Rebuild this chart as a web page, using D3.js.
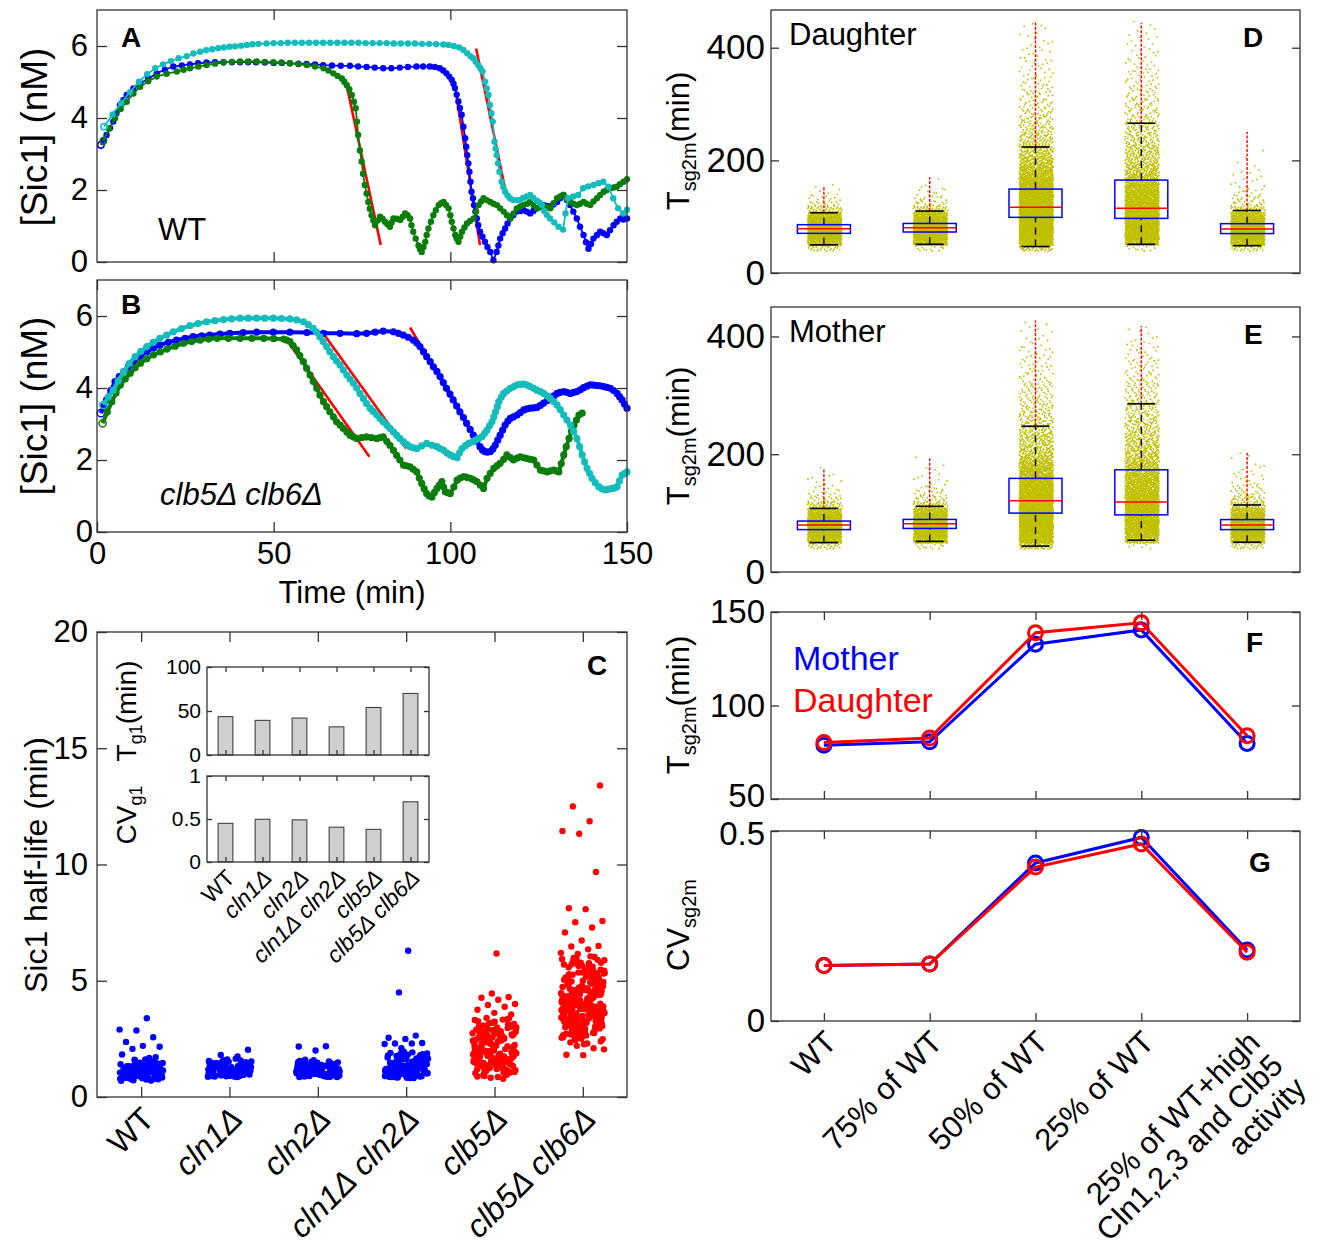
<!DOCTYPE html>
<html>
<head>
<meta charset="utf-8">
<script src="https://cdn.jsdelivr.net/npm/d3@7/dist/d3.min.js"></script>
<style>
  body { margin: 0; background: #fff; }
  svg text { font-family: "Liberation Sans", Arial, Helvetica, sans-serif; fill: #000; }
</style>
</head>
<body>
<svg id="fig" width="1329" height="1249"></svg>
<script>
// ---------- panel A / B : Sic1 traces, [time (min), Sic1 (nM)] ----------
const aBlue = [[1.1,3.25],[2.0,3.4],[2.7,3.53],[3.7,3.72],[4.6,3.9],[5.5,4.13],[6.5,4.36],[7.5,4.5],[8.4,4.64],[10.3,4.82],[12.2,4.96],[14.5,5.1],[16.9,5.24],[19.2,5.34],[21.6,5.43],[24,5.46],[26.3,5.49],[28.6,5.52],[31,5.54],[33.4,5.55],[35.8,5.55],[38.2,5.55],[40.5,5.55],[42.8,5.55],[45,5.55],[47.5,5.54],[50,5.53],[52.3,5.53],[54.6,5.52],[57,5.51],[59.3,5.5],[61.7,5.49],[64,5.47],[66.5,5.46],[69,5.45],[71.6,5.45],[73.9,5.43],[76.3,5.42],[78.6,5.4],[81,5.38],[83.3,5.38],[85.7,5.4],[88,5.42],[90.4,5.43],[92.3,5.43],[94.2,5.43],[95.6,5.42],[97,5.38],[98,5.32],[98.9,5.24],[99.7,5.15],[100.4,5.06],[100.9,4.95],[101.3,4.83],[101.8,4.65],[102.3,4.46],[102.7,4.28],[103.2,4.09],[103.7,3.76],[104.2,3.44],[104.5,3.2],[104.8,2.97],[105.1,2.74],[105.4,2.51],[105.7,2.23],[106,1.95],[106.4,1.77],[106.7,1.58],[107.1,1.4],[107.5,1.21],[107.9,1.02],[108.4,0.84],[109.1,0.7],[109.8,0.56],[110.5,0.42],[111.3,0.28],[112.2,0.05],[113.1,0.28],[113.6,0.46],[114.1,0.65],[114.8,0.8],[115.5,0.93],[116.2,1.07],[116.9,1.21],[117.8,1.3],[118.8,1.4],[119.8,1.42],[120.7,1.44],[121.6,1.4],[122.6,1.35],[123.5,1.42],[124.5,1.49],[125.5,1.54],[126.4,1.58],[127.3,1.56],[128.3,1.54],[129.2,1.6],[130.2,1.67],[131.1,1.77],[132,1.86],[133,1.72],[133.9,1.58],[134.8,1.4],[135.8,1.21],[136.7,0.98],[137.7,0.75],[138.4,0.55],[139.1,0.37],[139.8,0.5],[140.5,0.65],[141.5,0.75],[142.4,0.84],[143.3,0.8],[144.3,0.75],[145.2,0.88],[146.2,1.02],[147.1,1.12],[148.1,1.21],[149,1.18],[150,1.21]];
const aGreen = [[1.8,3.36],[3.4,3.7],[5.1,3.99],[6.7,4.25],[8.4,4.45],[10.3,4.68],[12.2,4.87],[14.5,5.02],[16.9,5.15],[19.7,5.23],[22.6,5.29],[24.5,5.34],[26.3,5.38],[28.7,5.43],[31,5.47],[33.4,5.51],[35.8,5.54],[38.2,5.56],[40.5,5.57],[42.8,5.57],[45.2,5.57],[47.5,5.56],[49.9,5.55],[52.2,5.54],[54.6,5.52],[57,5.5],[59.4,5.47],[61.7,5.43],[64.1,5.38],[65.5,5.32],[66.9,5.24],[68.1,5.17],[69.3,5.1],[70,5.01],[70.7,4.91],[71.4,4.8],[72.1,4.64],[72.7,4.45],[73.2,4.27],[73.6,3.9],[73.9,3.53],[74.4,3.1],[74.9,2.79],[75.3,2.45],[75.8,2.14],[76.3,1.9],[76.8,1.67],[77.2,1.48],[77.7,1.3],[78.2,1.15],[78.7,1.02],[79.4,1.15],[80.1,1.26],[80.8,1.2],[81.5,1.12],[82.2,1.05],[82.9,0.98],[83.4,1.1],[83.9,1.21],[84.8,1.2],[85.8,1.17],[86.5,1.26],[87.2,1.35],[87.9,1.3],[88.6,1.21],[89,1.02],[89.5,0.84],[90.2,0.65],[91,0.46],[91.4,0.36],[91.9,0.28],[92.4,0.42],[92.9,0.56],[93.3,0.75],[93.8,0.93],[94.5,1.12],[95.2,1.3],[95.9,1.44],[96.7,1.58],[97.4,1.63],[98.1,1.67],[98.8,1.58],[99.5,1.49],[100,1.3],[100.4,1.12],[100.9,0.93],[101.4,0.75],[101.8,0.65],[102.3,0.56],[102.8,0.7],[103.3,0.84],[104,0.96],[104.7,1.07],[105.6,1.14],[106.6,1.21],[107.3,1.4],[108,1.58],[108.7,1.68],[109.4,1.77],[110.3,1.72],[111.3,1.67],[112.2,1.62],[113.2,1.58],[114.1,1.49],[115.1,1.4],[116,1.3],[117,1.21],[117.9,1.35],[118.8,1.49],[119.8,1.54],[120.7,1.58],[121.7,1.62],[122.6,1.67],[123.5,1.58],[124.5,1.49],[125.4,1.52],[126.4,1.54],[127.3,1.52],[128.3,1.49],[129.2,1.63],[130.2,1.77],[131.1,1.82],[132,1.86],[133,1.76],[133.9,1.67],[134.8,1.62],[135.8,1.58],[136.7,1.62],[137.7,1.67],[138.6,1.62],[139.6,1.58],[140.5,1.68],[141.5,1.77],[142.4,1.86],[143.4,1.95],[144.3,2],[145.2,2.05],[146.2,2.07],[147.1,2.09],[148,2.16],[149,2.23],[150,2.3]];
const aCyan = [[2,3.76],[4.4,4.1],[6.8,4.41],[9.3,4.72],[11.9,5.01],[14.2,5.22],[16.5,5.38],[18.7,5.49],[20.9,5.58],[23.1,5.66],[25.4,5.72],[27.3,5.79],[29.2,5.84],[30.9,5.88],[32.6,5.91],[34.3,5.94],[35.9,5.96],[37.5,5.98],[39.1,5.99],[40.8,6.01],[42.4,6.03],[44,6.05],[45.7,6.06],[48,6.07],[50,6.08],[52,6.08],[54,6.09],[56,6.09],[58,6.09],[60,6.09],[62,6.09],[64,6.09],[66,6.09],[68,6.09],[70,6.09],[72,6.09],[74,6.09],[76,6.08],[78,6.08],[80,6.08],[82,6.08],[84,6.07],[86,6.07],[88,6.07],[90,6.07],[92,6.06],[94,6.06],[96,6.05],[98,6.04],[99.5,6.03],[101,6],[102.5,5.96],[103.7,5.89],[104.8,5.8],[105.7,5.72],[106.5,5.66],[107.2,5.56],[107.9,5.47],[108.5,5.38],[109.1,5.29],[109.8,5.01],[110.3,4.82],[110.8,4.64],[111.2,4.36],[111.6,4.13],[112,3.9],[112.5,3.34],[112.8,3.15],[113.1,2.97],[113.5,2.74],[113.9,2.51],[114.5,2.23],[115,2.08],[115.5,1.95],[116.2,1.85],[116.9,1.77],[117.8,1.72],[118.7,1.72],[119.7,1.72],[120.6,1.78],[121.6,1.82],[122.6,1.86],[123.5,1.78],[124.5,1.7],[125.3,1.65],[125.9,1.58],[126.6,1.42],[127.3,1.31],[128.2,1.21],[129.4,1.1],[130.6,0.98],[131.9,0.9],[132.6,1.35],[133.3,1.77],[134.8,1.82],[136.2,1.86],[137.6,2.05],[139,2.1],[140.5,2.14],[141.9,2.19],[143.3,2.23],[144.7,2.09],[146.1,1.77],[147.5,1.49],[148.9,1.35],[150,1.45]];
const aFits = [[[70.8,4.85],[80.3,0.47]], [[101.6,4.69],[108.4,0.47]], [[107.3,5.93],[116,1.79]]];

const bBlue = [[1.1,3.3],[1.9,3.5],[2.7,3.67],[3.9,3.93],[5.1,4.18],[6.3,4.32],[7.5,4.45],[8.9,4.6],[10.3,4.73],[12.2,4.88],[14.1,5.01],[16,5.11],[17.8,5.19],[20.2,5.27],[22.5,5.33],[24.9,5.38],[27.2,5.43],[29.6,5.45],[31.9,5.47],[34.8,5.5],[37.6,5.52],[41.4,5.54],[45.2,5.55],[49.9,5.55],[54.6,5.55],[59.4,5.54],[64.1,5.52],[68.8,5.52],[73.5,5.51],[76.3,5.52],[78.7,5.55],[81,5.58],[83.9,5.56],[85.3,5.52],[86.7,5.47],[88.1,5.41],[89.5,5.33],[90.5,5.25],[91.4,5.15],[92.4,5.01],[93.3,4.87],[94.3,4.73],[95.2,4.59],[96.2,4.46],[97.1,4.32],[98,4.15],[98.9,3.99],[99.9,3.83],[100.8,3.67],[101.8,3.5],[102.7,3.34],[103.7,3.18],[104.6,3.02],[105.6,2.85],[106.5,2.69],[107.5,2.53],[108.4,2.37],[109.1,2.28],[109.8,2.23],[110.5,2.22],[111.3,2.23],[112,2.3],[112.7,2.41],[113.4,2.55],[114.1,2.69],[114.8,2.83],[115.5,2.97],[116.3,3.08],[117,3.16],[117.9,3.2],[118.9,3.25],[119.8,3.32],[120.8,3.39],[121.7,3.42],[122.6,3.44],[123.6,3.45],[124.5,3.46],[125.5,3.52],[126.4,3.58],[127.4,3.65],[128.3,3.71],[129.3,3.78],[130.2,3.85],[131.1,3.88],[132.1,3.9],[133,3.88],[134,3.85],[134.9,3.88],[135.8,3.9],[136.8,3.95],[137.7,4.01],[138.7,4.05],[139.6,4.09],[140.5,4.08],[141.5,4.07],[142.4,4.06],[143.4,4.04],[144.3,4.02],[145.3,3.99],[146.2,3.93],[147.2,3.85],[147.9,3.76],[148.6,3.67],[149.3,3.55],[150,3.44]];
const bGreen = [[1.6,3.02],[2.9,3.33],[4.2,3.62],[5.4,3.86],[6.6,4.08],[8,4.25],[9.4,4.41],[10.8,4.56],[12.3,4.69],[14.1,4.81],[16,4.92],[17.9,5],[19.8,5.08],[22.1,5.16],[24.5,5.24],[26.8,5.29],[29.2,5.33],[31.6,5.36],[34,5.38],[37.2,5.38],[40.5,5.38],[43.8,5.38],[47.2,5.38],[50,5.37],[52.8,5.36],[53.7,5.33],[54.6,5.29],[55.5,5.18],[56.5,5.06],[57.4,4.9],[58.4,4.73],[59.3,4.55],[60.3,4.36],[61.2,4.18],[62.2,3.99],[63.1,3.8],[64.1,3.62],[65,3.48],[65.9,3.34],[66.9,3.2],[67.8,3.06],[68.8,2.97],[69.7,2.88],[70.7,2.78],[71.6,2.69],[72.6,2.64],[73.5,2.6],[74.9,2.62],[76.3,2.64],[77.7,2.62],[79.2,2.6],[80.1,2.62],[81,2.64],[82,2.52],[82.9,2.41],[83.9,2.27],[84.8,2.13],[85.7,2],[86.7,1.86],[87.6,1.84],[88.6,1.81],[89.5,1.74],[90.5,1.67],[91.2,1.5],[91.9,1.35],[92.6,1.2],[93.3,1.07],[94,1],[94.8,0.97],[95.5,1.1],[96.2,1.21],[96.9,1.3],[97.6,1.4],[98.1,1.25],[98.6,1.12],[99.3,1.09],[100,1.07],[101,1.25],[101.9,1.44],[102.8,1.5],[103.8,1.54],[104.7,1.52],[105.7,1.49],[106.6,1.45],[107.5,1.4],[108.5,1.3],[109.4,1.21],[110.4,1.49],[111.3,1.63],[112.3,1.77],[113.2,1.84],[114.1,1.91],[115.1,2.02],[116,2.14],[117,2.07],[117.9,2],[118.9,2.05],[119.8,2.09],[120.8,2.06],[121.7,2.04],[122.7,2.02],[123.6,2],[124.5,1.86],[125.5,1.72],[126.4,1.7],[127.4,1.67],[128.3,1.7],[129.3,1.72],[130,1.7],[130.7,1.67],[131.4,1.9],[132.1,2.14],[132.8,2.37],[133.6,2.6],[134.3,2.8],[135,2.97],[135.7,3.11],[136.4,3.25],[137.3,3.3]];
const bCyan = [[1.8,3.53],[3.2,3.75],[4.6,3.94],[6,4.2],[7.5,4.45],[9.1,4.68],[10.8,4.87],[12.4,5.02],[14.1,5.15],[15.9,5.27],[17.8,5.38],[19.7,5.47],[21.6,5.56],[23.9,5.65],[26.3,5.73],[28.6,5.79],[31,5.84],[33.4,5.87],[35.8,5.9],[38.1,5.92],[40.5,5.94],[42.8,5.94],[45.2,5.94],[47.5,5.94],[49.9,5.94],[52.2,5.93],[54.6,5.92],[56.5,5.89],[58.4,5.84],[59.8,5.76],[61.2,5.66],[62.1,5.55],[63.1,5.42],[64,5.29],[65,5.15],[65.9,5.01],[66.9,4.87],[67.8,4.75],[68.8,4.64],[69.7,4.5],[70.7,4.36],[71.6,4.25],[72.6,4.13],[73.5,4],[74.4,3.85],[75.4,3.71],[76.3,3.57],[77.3,3.44],[78.2,3.35],[79.2,3.25],[80.1,3.15],[81,3.06],[82,2.97],[82.9,2.88],[83.9,2.78],[84.8,2.69],[85.7,2.6],[86.7,2.51],[87.6,2.44],[88.6,2.37],[89.5,2.34],[90.5,2.32],[91.9,2.39],[93.3,2.46],[94.8,2.41],[96.2,2.37],[97.1,2.32],[98.1,2.27],[99,2.2],[100,2.14],[100.9,2.1],[101.9,2.06],[102.6,2.2],[103.3,2.32],[104.3,2.4],[105.2,2.46],[106.2,2.5],[107.1,2.55],[108,2.6],[109,2.65],[109.7,2.74],[110.4,2.83],[111.1,2.95],[111.8,3.06],[112.3,3.2],[112.8,3.34],[113.3,3.48],[113.7,3.62],[114.4,3.74],[115.1,3.85],[116,3.92],[117,3.99],[118,4.04],[118.9,4.09],[119.8,4.1],[120.8,4.11],[121.7,4.08],[122.6,4.04],[123.6,3.99],[124.5,3.94],[125.5,3.9],[126.4,3.85],[127.4,3.78],[128.3,3.71],[129.3,3.62],[130.2,3.53],[131.1,3.4],[132.1,3.25],[133,3.11],[134,2.97],[134.9,2.8],[135.8,2.6],[136.6,2.37],[137.3,2.14],[138,1.95],[138.7,1.77],[139.4,1.63],[140.1,1.49],[141,1.37],[142,1.26],[142.9,1.2],[143.9,1.17],[144.8,1.19],[145.8,1.21],[146.5,1.22],[147.2,1.26],[147.9,1.42],[148.6,1.58],[149.3,1.62],[150,1.67]];
const bFits = [[[54.5,5.22],[77.1,2.09]], [[63.7,5.56],[87.5,2.32]], [[88.6,5.68],[101,3.6]]];

// ---------- panel C : Sic1 half-life per strain ----------
const cCats = ["WT", "cln1Δ", "cln2Δ", "cln1Δ cln2Δ", "clb5Δ", "clb5Δ clb6Δ"];
const cHalfLife = [
  [0.74,0.91,1.12,0.83,1.31,0.97,1.05,0.79,1.22,1.44,0.88,1.02,0.71,1.16,0.95,1.38,0.86,1.09,1.27,0.77,1.51,0.93,1.19,0.81,1.03,1.35,0.9,1.14,0.75,1.25,0.99,1.47,0.85,1.07,0.72,1.21,0.94,1.33,0.8,1.11,1.41,0.87,1.01,0.76,1.18,0.96,1.29,1.56,0.84,1.62,1.06,1.71,0.92,1.83,1.68,2.07,2.16,2.2,2.37,2.57,2.86,2.9,3.39,
   0.78,1.08,0.89,1.24,0.73,1.36,1,0.82,1.17,0.94,1.43,0.7,1.13,0.86,1.28,0.98,1.04,0.76,1.2,1.46,0.9,1.32,0.81,1.1,0.96,1.39,0.74,1.15,1.26,0.88,1.53,1,0.79,1.23,1.07,0.93,1.34,0.83,1.19,1.6],
  [0.93,1.12,1.28,0.88,1.41,1.05,1.19,0.97,1.33,1.5,1.01,1.24,0.9,1.15,1.37,1.08,1.46,0.95,1.21,1.3,0.86,1.1,1.43,1.02,1.26,0.99,1.17,1.53,0.92,1.35,1.06,1.22,1.48,0.89,1.13,1.39,1.04,1.29,0.96,1.18,1.55,1,1.25,1.44,0.91,1.09,1.32,1.58,1.14,0.98,1.36,1.2,1.62,1.07,1.74,1.81,2.03,
   1.11,0.94,1.27,1.45,0.87,1.16,1.34,1.03,1.52,0.9,1.23,1.4,0.97,1.08,1.31,1.19,0.89,1.47,1.05,1.25,1.37,0.93,1.14,1.57,1.01,1.29,0.88,1.42,1.12,1.21,0.95,1.34,1.49,1.06,1.18,0.91,1.27,1.39,1,1.65],
  [0.9,1.08,1.25,1.4,0.87,1.16,1.02,1.33,0.95,1.2,1.47,1.05,0.92,1.29,1.12,1.38,0.88,1.23,1.01,1.5,0.97,1.14,1.35,1.07,0.9,1.27,1.43,1.1,0.94,1.19,1.31,1.04,1.55,0.99,1.22,0.86,1.37,1.13,1.45,1,1.26,0.93,1.17,1.41,1.06,1.3,0.96,1.52,1.2,1.09,1.6,1.34,2,2.17,2.18,
   1.05,0.88,1.32,1.18,0.96,1.44,1.1,0.91,1.27,1.38,1,1.21,0.87,1.15,1.49,1.03,1.3,0.94,1.24,1.41,0.89,1.12,1.35,0.98,1.17,1.53,1.07,0.92,1.28,1.46,1.01,1.2,0.86,1.36,1.11,1.25,0.95,1.42,1.14,1.58],
  [0.84,1.12,6.29,0.97,1.68,1.25,0.9,1.52,1.08,1.84,1.33,0.87,1.19,1.61,1.02,1.4,0.93,1.75,1.28,1.14,0.81,1.56,1.05,1.37,1.9,0.95,1.22,1.65,1.1,1.48,0.89,1.31,1.79,1,1.17,1.58,1.36,0.92,1.26,1.71,1.04,1.43,0.85,1.2,1.63,1.11,1.5,0.98,1.87,1.3,1.07,1.39,1.95,0.94,1.24,1.54,1.16,1.82,1.01,1.34,2.1,2.28,2.3,2.3,2.32,2.5,2.55,2.64,4.5,1.45,
   1.06,1.38,0.88,1.62,1.21,0.99,1.77,1.29,0.83,1.47,1.13,1.85,1.02,1.33,0.91,1.56,1.18,1.7,0.96,1.42,1.09,1.27,0.86,1.6,1.36,1.15,1.92,1.03,1.5,0.9,1.23,1.66,1.12,1.41,0.82,1.31,1.8,1,1.19,1.53,1.08,1.73,0.94,1.45,1.26],
  [1.12,2.05,6.17,2.76,0.95,1.83,2.41,1.27,3.08,1.66,2.19,0.88,1.54,2.93,1.95,1.36,2.58,1.09,2.27,3.31,1.72,1.18,2.64,1.45,2.12,0.99,3.17,1.88,2.48,1.31,1.62,2.85,2.01,1.04,2.35,1.77,2.99,1.4,2.18,0.83,1.58,2.7,1.22,1.93,3.24,2.09,1.51,2.52,1.15,1.8,2.31,3.38,1.69,1.02,2.6,1.98,1.34,2.22,2.89,1.6,1.25,2.43,1.86,0.92,3.02,2.14,1.43,1.74,2.67,1.07,2.38,1.92,3.12,1.56,2.25,1.29,2.79,1.97,1.38,2.55,1.13,1.84,2.95,1.65,2.04,1.47,3.2,2.46,0.78,1.9,2.7,1.2,1.76,3.35,2.29,1.52,2.83,1,3.55,3.62,3.75,3.88,3.96,4,4.18,4.27,4.3,4.45,1.48,
   1.35,2.62,1.71,2.2,3.05,1.16,1.97,2.74,1.42,2.33,1.05,2.88,1.81,2.5,1.28,3.14,1.63,2.11,2.97,1.49,1.89,2.43,0.9,2.69,1.55,3.26,2.06,1.24,2.81,1.75,2.28,1.1,2.57,1.94,3.33,1.37,2.16,2.92,1.68,1.01,2.39,1.83,2.65,1.46,3.09,2,1.19,2.53,1.77,2.24,0.86,2.86,1.6,3.19,2.12,1.33,2.46,1.91,2.73,1.52,1.08,2.34,3,1.7,2.58,1.41,2.03,2.9,1.26,3.4],
  [3.12,4.55,2.78,5.21,3.86,4.02,2.55,5.67,3.44,4.88,3.01,4.31,5.45,2.92,3.73,4.67,3.25,5.02,4.15,2.66,3.58,5.83,4.43,3.17,4.96,2.84,3.95,5.33,4.21,3.36,4.74,2.51,3.68,5.12,4.09,3.05,4.6,5.58,3.5,2.97,4.37,3.81,5.26,4.82,3.21,2.72,4.27,5.95,3.63,4.12,3.29,4.91,2.6,3.91,5.4,4.48,3.1,3.77,5.07,4.62,2.88,3.42,4.05,5.71,3.56,4.79,3,4.33,2.45,3.84,5.17,4.18,3.33,4.71,3.66,5.52,2.81,4.4,3.97,3.15,4.99,3.47,5.88,4.25,2.69,3.71,4.58,3.24,5.29,4.06,3.53,2.94,4.85,3.88,5.63,4.14,3.39,4.51,3.07,5.36,4.29,2.76,3.6,4.95,3.19,4.66,5.1,3.78,2.58,4.44,3.93,5.77,3.28,4.08,6.02,6.15,6.2,6.35,6.47,6.5,6.73,7.08,7.29,7.52,7.57,8.08,8.12,9.68,11.32,11.44,11.86,12.5,13.4,1.8,1.82,2.1,2.2,2.05,2.3,2.35,5.9,5.78,5.7,4.2,4.6,3.4,3.8,
   4.13,3.02,5.35,3.74,4.57,2.86,5.08,3.49,4.3,5.6,3.2,4.76,2.64,3.96,5.23,4.41,3.35,4.94,3.08,5.47,3.83,4.22,2.75,5.72,3.61,4.65,3.14,5.15,4,3.45,4.87,2.53,3.9,5.39,4.35,3.27,4.7,5.94,3.57,4.16,2.95,5,3.69,4.49,3.11,5.31,4.03,3.38,4.81,2.71,3.99,5.55,4.24,3.23,4.62,3.79,5.19,2.9,4.46,3.52,4.97,3.04,5.66,4.11,3.65,4.54,2.49,3.86,5.28,4.38,3.16,4.73,3.48,5.84,4.01,2.83,3.72,4.9,3.31,5.43,4.19,3.59,4.64,2.98,5.04,3.94,4.28,3.13,5.5,4.83,3.42,2.62,4.07,5.75,3.76,4.5,3.26,5.14,4.34,2.79,3.89,4.68,3.07,5.32,4.15,3.55,6.05,5.98,2.4,2.27]
];
const cColors = ["#0000ff", "#0000ff", "#0000ff", "#0000ff", "#ff0000", "#ff0000"];
// inset bars
const insetTg1 = [43.6, 39.4, 42, 32, 54, 70];
const insetCVg1 = [0.45, 0.497, 0.49, 0.405, 0.38, 0.7];

// ---------- panels D / E : Tsg2m distributions ----------
const deCats = ["WT", "75% of WT", "50% of WT", "25% of WT", "25% of WT+high\nCln1,2,3 and Clb5\nactivity"];
// box stats: [lower whisker, q1, median, q3, upper whisker, max outlier]
const dStats = [[50,70.4,78.7,85.8,107,155],[51,72.8,80.5,88,110,170],[47,98.8,116.6,149,223.7,448],[51,97,115,165,266,444],[48.5,70,78,87.6,111,251]];
const eStats = [[50,72,79.7,86.5,108,176],[52,74,82,89.3,111.5,195],[44,100,121,159,247.5,427],[54,97,119,173.5,285.6,418],[50.6,72,80,89,113.8,202]];
// dot counts per 10-min bin, first bin starting at 40 min
const binStart = 40, binWidth = 10;
const dCloud = [
  [25,140,190,200,190,160,110,40,15,8,5,2],
  [12,130,185,200,195,165,115,45,18,10,6,3,2],
  [40,150,180,190,200,200,200,190,180,170,160,150,130,110,95,80,65,55,45,38,32,27,23,20,17,15,13,11,10,9,8,7,6,5,5,4,4,3,3,2,2],
  [10,110,150,160,165,165,160,155,145,135,125,110,95,80,70,60,52,45,40,35,30,26,23,20,18,16,14,12,11,10,9,8,7,6,5,5,4,3,3,2,2],
  [25,140,190,195,185,155,110,45,20,12,8,5,4,3,2,2,1,1]
];
const eCloud = [
  [25,135,185,200,190,160,110,45,20,10,6,4,3,1],
  [12,120,180,200,195,165,120,50,22,12,8,5,3,2,1,1],
  [50,140,170,180,185,185,180,175,165,155,145,135,120,105,92,80,68,58,50,43,37,32,28,24,21,18,16,14,12,10,9,8,7,6,5,4,3,3,2],
  [5,95,135,145,150,150,150,145,138,130,120,110,100,90,80,70,62,55,48,42,37,33,29,26,23,20,18,16,14,12,10,9,8,7,6,4,3,2],
  [25,130,180,195,185,160,115,55,28,16,11,7,5,4,3,2,1]
];

// ---------- panels F / G : means and CVs ----------
const fMother = [78.8, 80.6, 132.8, 140.4, 79.7];
const fDaughter = [80.2, 82.6, 138.9, 144.2, 83.8];
const gMother = [0.146, 0.150, 0.416, 0.483, 0.187];
const gDaughter = [0.146, 0.150, 0.405, 0.466, 0.181];

// ====================================================================
const svg = d3.select("#fig");
const AX = "#333";

function frame(x0, x1, y0, y1) {
  svg.append("rect")
    .attr("x", x0).attr("y", y0)
    .attr("width", x1 - x0).attr("height", y1 - y0)
    .attr("fill", "none").attr("stroke", AX).attr("stroke-width", 1.3);
}

// MATLAB-like box: ticks point inward on every side
function axes(x, y, o) {
  const [x0, x1] = x.range();
  const [yb, yt] = y.range();
  const g = svg.append("g");
  const left = g.append("g").attr("transform", `translate(${x0},0)`)
    .call(d3.axisLeft(y).tickValues(o.yVals).tickSize(-o.len).tickPadding(o.pad)
      .tickFormat(o.yFmt || (d => d)));
  if (o.nudge) left.selectAll(".tick text").attr("y", d => o.nudge(d) || 0);
  g.append("g").attr("transform", `translate(${x1},0)`)
    .call(d3.axisRight(y).tickValues(o.yVals).tickSize(-o.len).tickFormat(""));
  if (o.xVals) {
    g.append("g").attr("transform", `translate(0,${yt})`)
      .call(d3.axisTop(x).tickValues(o.xVals).tickSize(-o.len).tickFormat(""));
    const b = g.append("g").attr("transform", `translate(0,${yb})`)
      .call(d3.axisBottom(x).tickValues(o.xVals).tickSize(-o.len).tickPadding(o.pad)
        .tickFormat(o.xLabels ? (d => d) : ""));
    if (o.xLabels) b.selectAll(".tick text").attr("dy", "0.9em");
  }
  g.selectAll(".domain").remove();
  g.selectAll(".tick line").attr("stroke", AX).attr("stroke-width", 1.3);
  g.selectAll(".tick text").attr("font-size", o.fs).attr("font-family", null).attr("fill", "#000");
  frame(x0, x1, yt, yb);
  return g;
}

function rotTitle(x, y, fs, parts) {
  const t = svg.append("text")
    .attr("transform", `translate(${x},${y}) rotate(-90)`)
    .attr("text-anchor", "middle").attr("font-size", fs);
  parts.forEach(p => {
    const s = t.append("tspan").text(p.t);
    if (p.fs) s.attr("font-size", p.fs);
    if (p.dy) s.attr("dy", p.dy);
  });
}

function label(x, y, txt, fs, opt = {}) {
  return svg.append("text").attr("x", x).attr("y", y).attr("font-size", fs)
    .attr("font-weight", opt.bold ? "bold" : null)
    .attr("font-style", opt.italic ? "italic" : null)
    .style("fill", opt.color || "#000")
    .text(txt);
}

function rotLabels(x, cats, yAxis, fs, italicFn) {
  const g = svg.append("g").attr("font-size", fs);
  cats.forEach(c => {
    const t = g.append("text")
      .attr("transform", `translate(${x(c) + fs * 0.22},${yAxis + fs * 0.5}) rotate(-45)`)
      .attr("text-anchor", "end")
      .attr("font-style", italicFn(c) ? "italic" : null);
    c.split("\n").forEach((line, i) => {
      t.append("tspan").attr("x", 0).attr("dy", i === 0 ? "0.35em" : "1.05em").text(line);
    });
  });
}

// ---------------- A & B ----------------
const xT = d3.scaleLinear().domain([0, 150]).range([97, 627]);
const yA = d3.scaleLinear().domain([0, 7]).range([262, 10]);
const yB = d3.scaleLinear().domain([0, 7]).range([532, 280]);

function traces(y, series, fits, lw, r) {
  const line = d3.line().x(d => xT(d[0])).y(d => y(d[1]));
  fits.forEach(f => svg.append("path").attr("d", line(f))
    .attr("fill", "none").attr("stroke", "#ff0000").attr("stroke-width", 2.6));
  series.forEach(s => {
    svg.append("path").attr("d", line(s.data))
      .attr("fill", "none").attr("stroke", s.color).attr("stroke-width", lw);
    svg.append("g").selectAll("circle").data(s.data).join("circle")
      .attr("cx", d => xT(d[0])).attr("cy", d => y(d[1])).attr("r", r)
      .attr("fill", (d, i) => i === 0 ? "none" : s.color)
      .attr("stroke", s.color).attr("stroke-width", (d, i) => i === 0 ? 1.5 : 0);
  });
}

traces(yA, [{data: aBlue, color: "#0000ff"}, {data: aGreen, color: "#0b7d0b"}, {data: aCyan, color: "#14bcbc"}], aFits, 1.8, 3.2);
axes(xT, yA, {yVals: [0, 2, 4, 6], xVals: [50, 100], len: 10, pad: 9, fs: 31});
traces(yB, [{data: bBlue, color: "#0000ff"}, {data: bGreen, color: "#0b7d0b"}, {data: bCyan, color: "#14bcbc"}], bFits, 4, 3.6);
axes(xT, yB, {yVals: [0, 2, 4, 6], xVals: [0, 50, 100, 150], xLabels: true, len: 10, pad: 4, fs: 31});

rotTitle(47, 137, 37, [{t: "[Sic1] (nM)"}]);
rotTitle(47, 406, 37, [{t: "[Sic1] (nM)"}]);
label(352, 603, "Time (min)", 31).attr("text-anchor", "middle");
label(121, 47, "A", 28, {bold: true});
label(121, 314, "B", 28, {bold: true});
label(158, 240, "WT", 31);
label(160, 505, "clb5Δ clb6Δ", 31, {italic: true});

// ---------------- C ----------------
const xC = d3.scalePoint().domain(cCats).range([97, 627]).padding(0.5);
const yC = d3.scaleLinear().domain([0, 20]).range([1097, 632]);
cHalfLife.forEach((vals, k) => {
  svg.append("g").selectAll("circle").data(vals).join("circle")
    .attr("cx", (d, i) => xC(cCats[k]) + (((i * 0.618034 + 0.31) % 1) - 0.5) * 44)
    .attr("cy", d => yC(d)).attr("r", 3.2)
    .attr("fill", cColors[k]);
});
axes(xC, yC, {yVals: [0, 5, 10, 15, 20], xVals: cCats, len: 10, pad: 9, fs: 31});
rotLabels(xC, cCats, 1097, 32, c => c !== "WT");
rotTitle(47, 865, 32, [{t: "Sic1 half-life (min)"}]);
label(587, 675, "C", 28, {bold: true});

// inset bars
const xI = d3.scaleBand().domain(cCats).range([207, 429]).paddingInner(0.6).paddingOuter(0.3);
const xIp = d3.scalePoint().domain(cCats).range([207, 429]).padding(0.5);
const yI1 = d3.scaleLinear().domain([0, 100]).range([755, 667]);
const yI2 = d3.scaleLinear().domain([0, 1]).range([862, 776]);
[[yI1, insetTg1], [yI2, insetCVg1]].forEach(([y, vals]) => {
  svg.append("g").selectAll("rect").data(vals).join("rect")
    .attr("x", (d, i) => xI(cCats[i])).attr("width", xI.bandwidth())
    .attr("y", d => y(d)).attr("height", d => y(0) - y(d))
    .attr("fill", "#cfcfcf").attr("stroke", "#333").attr("stroke-width", 1);
});
axes(xIp, yI1, {yVals: [0, 50, 100], xVals: cCats, len: 5, pad: 6, fs: 21});
axes(xIp, yI2, {yVals: [0, 0.5, 1], xVals: cCats, len: 5, pad: 6, fs: 21});
rotLabels(xIp, cCats, 862, 23, c => c !== "WT");
rotTitle(136, 711, 28, [{t: "T"}, {t: "g1", fs: 18, dy: 6}, {t: "(min)", dy: -6}]);
rotTitle(136, 815, 28, [{t: "CV"}, {t: "g1", fs: 18, dy: 6}]);

// ---------------- D & E ----------------
const xR = d3.scalePoint().domain(deCats).range([771, 1300]).padding(0.5);
const yD = d3.scaleLinear().domain([0, 467]).range([273, 10]);
const yE = d3.scaleLinear().domain([0, 450]).range([572, 307]);

function halton(i, b) {
  let f = 1, r = 0;
  while (i > 0) { f /= b; r += f * (i % b); i = Math.floor(i / b); }
  return r;
}

function boxPanel(y, stats, cloud) {
  deCats.forEach((c, k) => {
    const cx = xR(c);
    let p = "", idx = 1;
    cloud[k].forEach((n, b) => {
      for (let j = 0; j < n; j++, idx++) {
        const px = cx + (halton(idx, 2) - 0.5) * 34;
        const py = y(binStart + b * binWidth + halton(idx, 3) * binWidth);
        p += `M${px.toFixed(1)},${py.toFixed(1)}h1.6v1.6h-1.6z`;
      }
    });
    svg.append("path").attr("d", p).attr("fill", "#c0c000");
  });
  const g = svg.append("g");
  stats.forEach((s, k) => {
    const cx = xR(deCats[k]);
    const [lo, q1, md, q3, hi, mx] = s;
    g.append("line").attr("x1", cx).attr("x2", cx).attr("y1", y(hi)).attr("y2", y(mx))
      .attr("stroke", "#ff0000").attr("stroke-width", 1.4).attr("stroke-dasharray", "3,1.5");
    [[q3, hi], [lo, q1]].forEach(([a, b]) => g.append("line")
      .attr("x1", cx).attr("x2", cx).attr("y1", y(a)).attr("y2", y(b))
      .attr("stroke", "#000").attr("stroke-width", 1.4).attr("stroke-dasharray", "7,5"));
    [lo, hi].forEach(v => g.append("line")
      .attr("x1", cx - 14).attr("x2", cx + 14).attr("y1", y(v)).attr("y2", y(v))
      .attr("stroke", "#000").attr("stroke-width", 1.6));
    g.append("rect").attr("x", cx - 26.5).attr("width", 53)
      .attr("y", y(q3)).attr("height", y(q1) - y(q3))
      .attr("fill", "none").attr("stroke", "#0000ff").attr("stroke-width", 1.5);
    g.append("line").attr("x1", cx - 26.5).attr("x2", cx + 26.5).attr("y1", y(md)).attr("y2", y(md))
      .attr("stroke", "#ff0000").attr("stroke-width", 1.5);
  });
}

boxPanel(yD, dStats, dCloud);
axes(xR, yD, {yVals: [0, 200, 400], len: 8, pad: 6, fs: 35});
boxPanel(yE, eStats, eCloud);
axes(xR, yE, {yVals: [0, 200, 400], len: 8, pad: 6, fs: 35});
const tsg = [{t: "T"}, {t: "sg2m", fs: 20, dy: 7}, {t: "(min)", dy: -7}];
rotTitle(689, 141, 31, tsg);
rotTitle(689, 436, 31, tsg);
label(789, 45, "Daughter", 31);
label(789, 342, "Mother", 31);
label(1243, 47, "D", 28, {bold: true});
label(1244, 344, "E", 28, {bold: true});

// ---------------- F & G ----------------
const yF = d3.scaleLinear().domain([50, 150]).range([799, 612]);
const yG = d3.scaleLinear().domain([0, 0.5]).range([1021, 831]);

function meanLines(y, series) {
  series.forEach(s => {
    const line = d3.line().x((d, i) => xR(deCats[i])).y(d => y(d));
    svg.append("path").attr("d", line(s.vals)).attr("fill", "none")
      .attr("stroke", s.color).attr("stroke-width", 3);
    svg.append("g").selectAll("circle").data(s.vals).join("circle")
      .attr("cx", (d, i) => xR(deCats[i])).attr("cy", d => y(d)).attr("r", 7)
      .attr("fill", "none").attr("stroke", s.color).attr("stroke-width", 3);
  });
}

meanLines(yF, [{vals: fMother, color: "#0000ff"}, {vals: fDaughter, color: "#ff0000"}]);
axes(xR, yF, {yVals: [50, 100, 150], xVals: deCats, len: 8, pad: 6, fs: 33, nudge: d => d === 50 ? -3 : 0});
meanLines(yG, [{vals: gMother, color: "#0000ff"}, {vals: gDaughter, color: "#ff0000"}]);
axes(xR, yG, {yVals: [0, 0.5], xVals: deCats, len: 8, pad: 6, fs: 33, nudge: d => d === 0.5 ? 3 : 0});
rotLabels(xR, deCats, 1021, 31, () => false);
rotTitle(689, 705, 31, tsg);
rotTitle(689, 925, 31, [{t: "CV"}, {t: "sg2m", fs: 20, dy: 7}]);
label(793, 670, "Mother", 34, {color: "#0000ff"});
label(793, 712, "Daughter", 34, {color: "#ff0000"});
label(1246, 652, "F", 28, {bold: true});
label(1249, 872, "G", 28, {bold: true});
</script>
</body>
</html>
